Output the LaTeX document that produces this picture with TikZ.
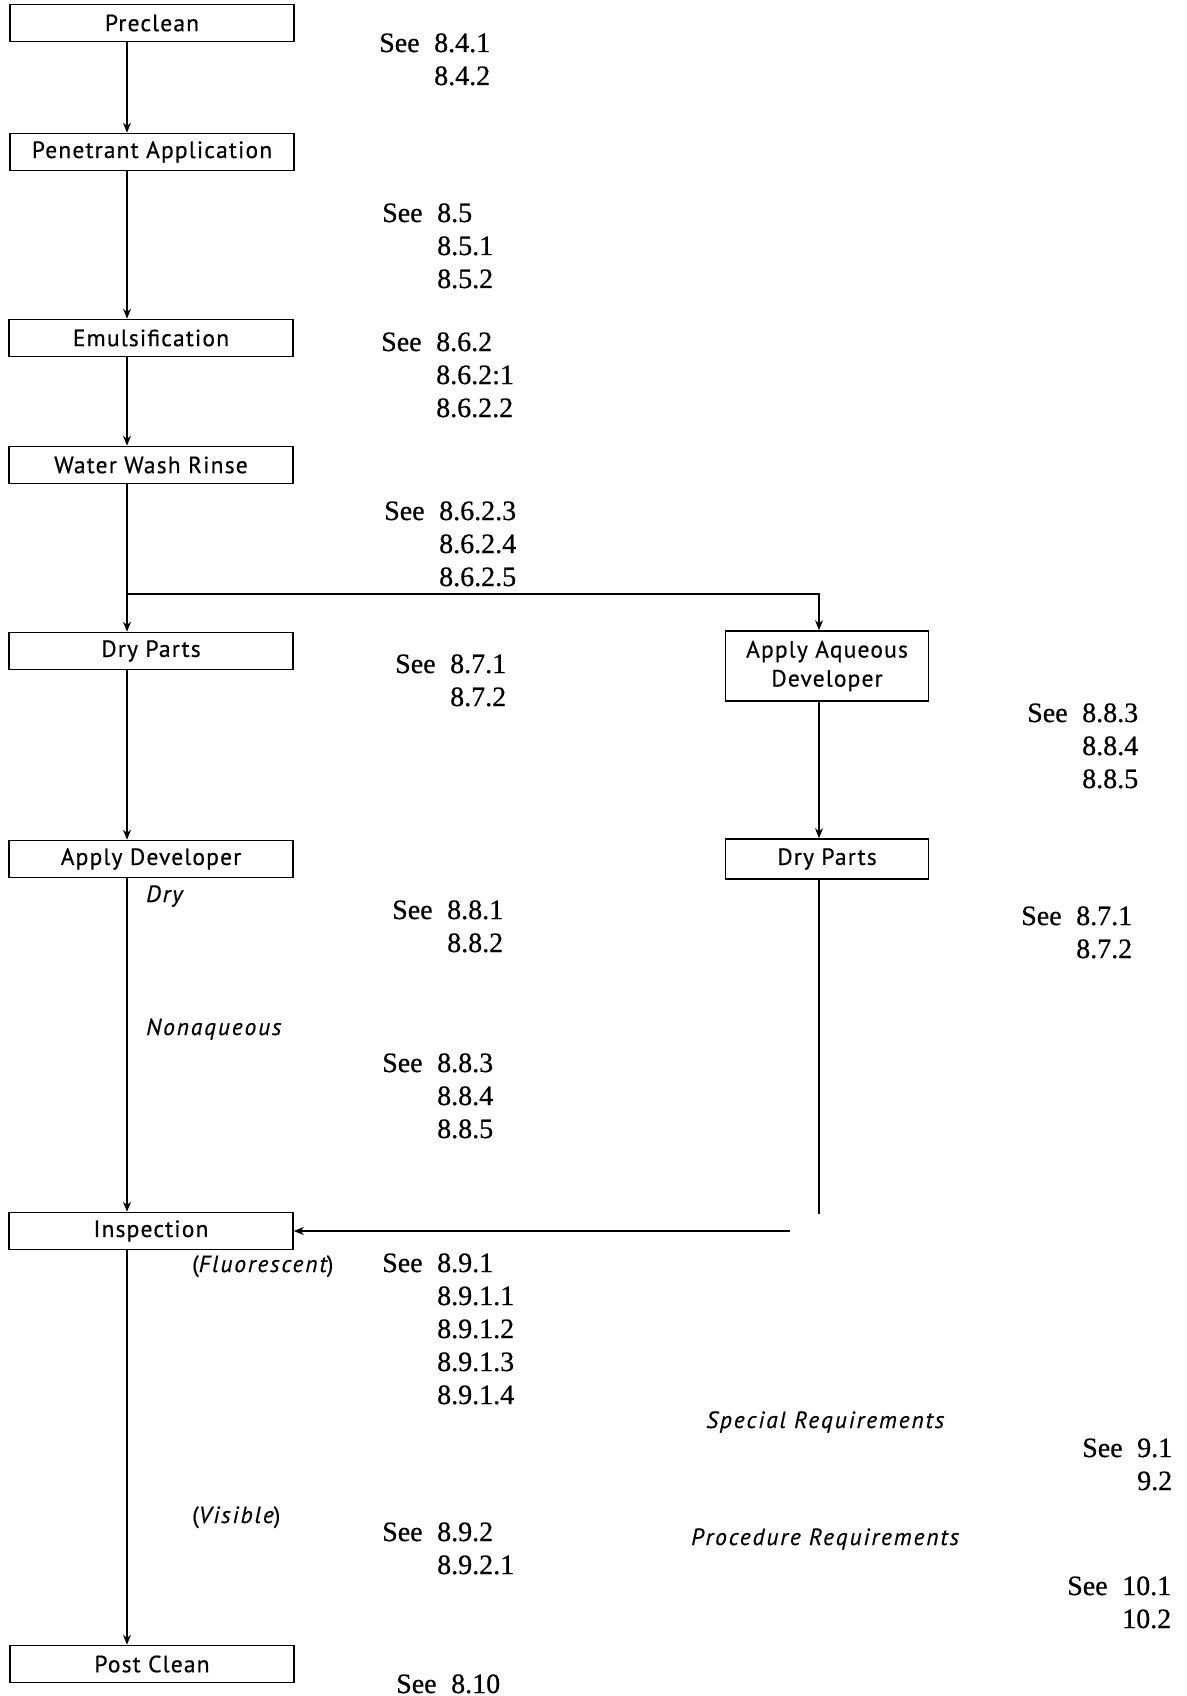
\documentclass[tikz,border=0pt]{standalone}
\usepackage{fontspec}
\setmainfont[FakeBold=0.6]{Liberation Serif}
\newfontfamily\boxfont[LetterSpace=5,FakeBold=0.5]{PT Sans}
\newfontfamily\labfont[LetterSpace=8,FakeBold=0.4]{PT Sans}
\usetikzlibrary{arrows.meta}
\begin{document}
\begin{tikzpicture}[x=1pt,y=-1pt,
  stepbox/.style={draw, line width=1.6pt, minimum width=284pt, minimum height=37pt, inner sep=0pt,
    font=\boxfont\fontsize{23.5}{29}\selectfont},
  rbox/.style={stepbox, minimum width=203pt},
  flow/.style={line width=1.4pt, -{Stealth[length=10pt,width=8pt]}},
  plain/.style={line width=1.4pt},
  ref/.style={anchor=base west, inner sep=0pt, font=\fontsize{28}{33}\selectfont},
  lab/.style={anchor=base west, inner sep=0pt, font=\labfont\itshape\fontsize{23.5}{28}\selectfont},
]
\useasboundingbox (0,0) rectangle (1186,1696);
% boxes
\node[stepbox] (pre) at (152,23) {Preclean};
\node[stepbox] (pen) at (152,152) {Penetrant Application};
\node[stepbox] (emu) at (151,338) {Emulsification};
\node[stepbox] (wwr) at (151,465) {Water Wash Rinse};
\node[stepbox] (dry) at (151,651) {Dry Parts};
\node[stepbox] (dev) at (151,859) {Apply Developer};
\node[stepbox] (ins) at (151,1231) {Inspection};
\node[stepbox] (pc) at (152,1664) {Post Clean};
\node[rbox, minimum height=70pt, align=center] (aad) at (827,666) {Apply Aqueous\\Developer};
\node[rbox, minimum height=40pt] (rdry) at (827,859) {Dry Parts};
% spines
\coordinate (sp) at (127,0);
\coordinate (rs) at (819,0);
\coordinate (br) at (127,594);
\coordinate (rend) at (819,1214);
\coordinate (rin) at (790,1231);
% connectors
\draw[flow] (pre.south -| sp) -- (pen.north -| sp);
\draw[flow] (pen.south -| sp) -- (emu.north -| sp);
\draw[flow] (emu.south -| sp) -- (wwr.north -| sp);
\draw[flow] (wwr.south -| sp) -- (dry.north -| sp);
\draw[flow] (br) -| (aad.north -| rs);
\draw[flow] (dry.south -| sp) -- (dev.north -| sp);
\draw[flow] (dev.south -| sp) -- (ins.north -| sp);
\draw[flow] (ins.south -| sp) -- (pc.north -| sp);
\draw[flow] (aad.south -| rs) -- (rdry.north -| rs);
\draw[plain] (rdry.south -| rs) -- (rend);
\draw[flow] (rin) -- (ins.east);
% references
\node[ref] (rA) at (379,52) {\begin{tabular}[t]{@{}p{55pt}@{}l@{}}See & 8.4.1\\ & 8.4.2\end{tabular}};
\node[ref] (rB) at (382,222) {\begin{tabular}[t]{@{}p{55pt}@{}l@{}}See & 8.5\\ & 8.5.1\\ & 8.5.2\end{tabular}};
\node[ref] (rC) at (381,351) {\begin{tabular}[t]{@{}p{55pt}@{}l@{}}See & 8.6.2\\ & 8.6.2:1\\ & 8.6.2.2\end{tabular}};
\node[ref] (rD) at (384,520) {\begin{tabular}[t]{@{}p{55pt}@{}l@{}}See & 8.6.2.3\\ & 8.6.2.4\\ & 8.6.2.5\end{tabular}};
\node[ref] (rE) at (395,673) {\begin{tabular}[t]{@{}p{55pt}@{}l@{}}See & 8.7.1\\ & 8.7.2\end{tabular}};
\node[ref] (rF) at (1027,722) {\begin{tabular}[t]{@{}p{55pt}@{}l@{}}See & 8.8.3\\ & 8.8.4\\ & 8.8.5\end{tabular}};
\node[ref] (rG) at (1021,925) {\begin{tabular}[t]{@{}p{55pt}@{}l@{}}See & 8.7.1\\ & 8.7.2\end{tabular}};
\node[ref] (rH) at (392,919) {\begin{tabular}[t]{@{}p{55pt}@{}l@{}}See & 8.8.1\\ & 8.8.2\end{tabular}};
\node[ref] (rI) at (382,1072) {\begin{tabular}[t]{@{}p{55pt}@{}l@{}}See & 8.8.3\\ & 8.8.4\\ & 8.8.5\end{tabular}};
\node[ref] (rJ) at (382,1272) {\begin{tabular}[t]{@{}p{55pt}@{}l@{}}See & 8.9.1\\ & 8.9.1.1\\ & 8.9.1.2\\ & 8.9.1.3\\ & 8.9.1.4\end{tabular}};
\node[ref] (rK) at (1082,1457) {\begin{tabular}[t]{@{}p{55pt}@{}r@{}}See & 9.1\\ & 9.2\end{tabular}};
\node[ref] (rL) at (382,1541) {\begin{tabular}[t]{@{}p{55pt}@{}l@{}}See & 8.9.2\\ & 8.9.2.1\end{tabular}};
\node[ref] (rM) at (1067,1595) {\begin{tabular}[t]{@{}p{55pt}@{}r@{}}See & 10.1\\ & 10.2\end{tabular}};
\node[ref] (rN) at (396,1693) {\begin{tabular}[t]{@{}p{55pt}@{}l@{}}See & 8.10\end{tabular}};
% italic labels
\node[lab] (lDry) at (146,902) {Dry};
\node[lab] (lNon) at (146,1035) {Nonaqueous};
\node[lab] (lFl) at (192,1272) {{\upshape(}Fluorescent{\upshape)}};
\node[lab] (lVi) at (192,1523) {{\upshape(}Visible{\upshape)}};
\node[lab] (lSp) at (706,1428) {Special Requirements};
\node[lab] (lPr) at (691,1545) {Procedure Requirements};
\end{tikzpicture}
\end{document}
